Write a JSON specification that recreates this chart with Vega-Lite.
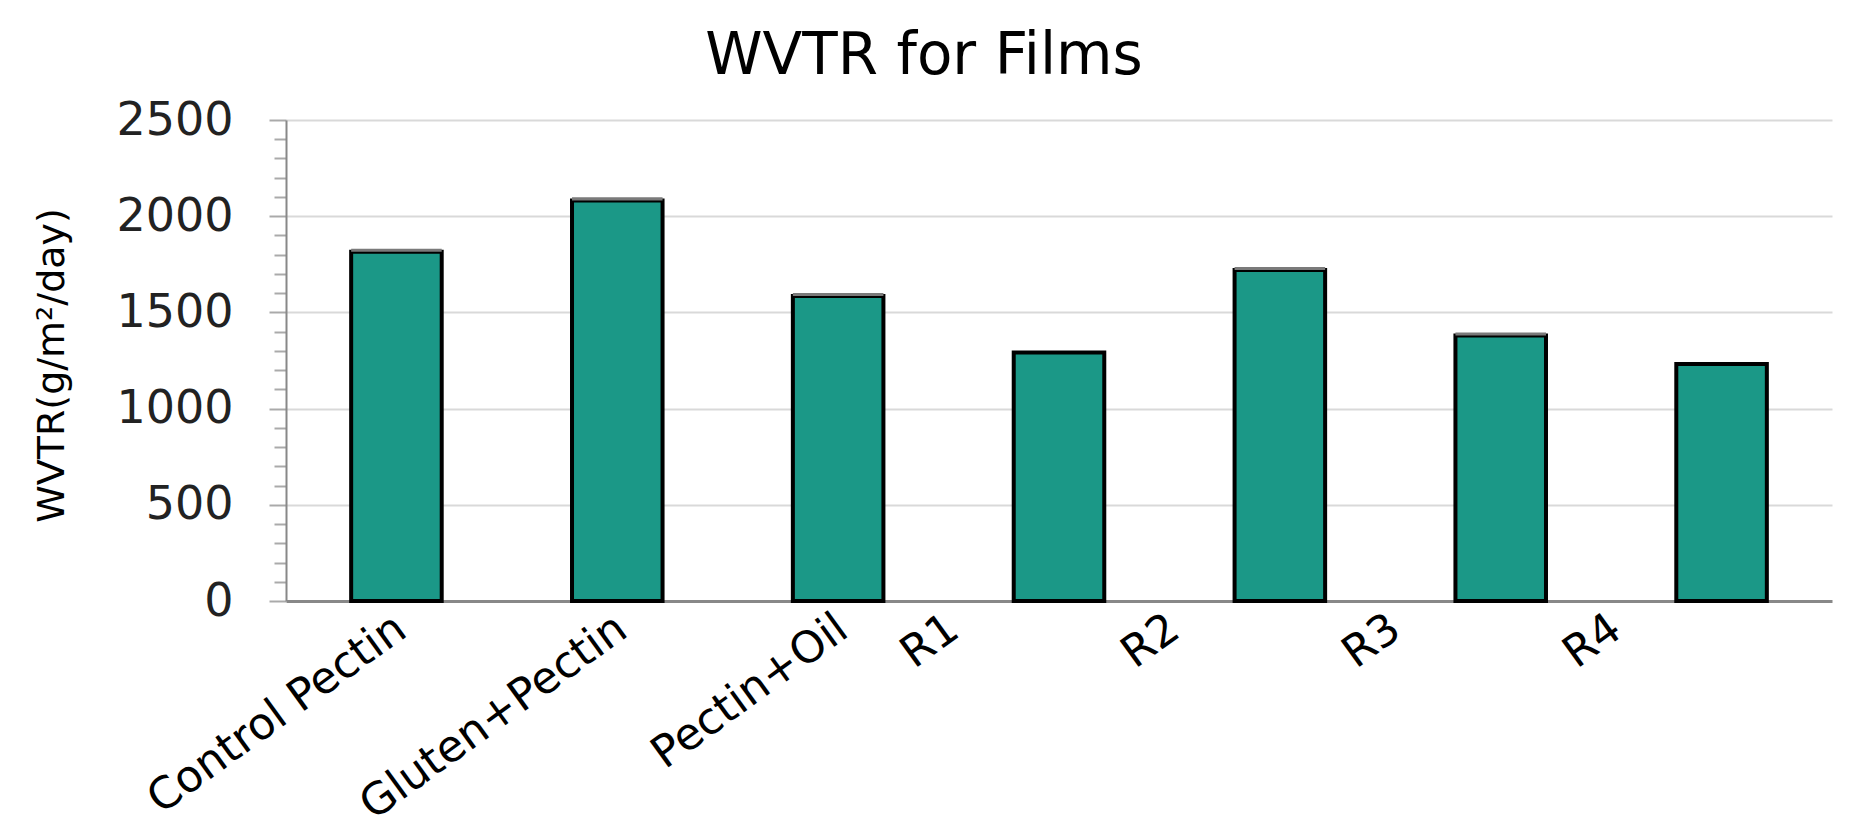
{
  "$schema": "https://vega.github.io/schema/vega-lite/v6.json",
  "width": 1546,
  "height": 481,
  "autosize": {"type": "none"},
  "padding": {"left": 286, "top": 120, "right": 36, "bottom": 233},
  "background": "white",
  "title": {"text": "WVTR for Films", "font": "DejaVu Sans", "fontSize": 58, "fontWeight": "normal", "color": "#000000", "anchor": "middle", "baseline": "alphabetic", "offset": -35, "dx": -135},
  "config": {"view": {"stroke": null}, "font": "DejaVu Sans"},
  "data": {"values": [
    {"film": "Control Pectin", "wvtr": 1815, "cap": 1831},
    {"film": "Gluten+Pectin", "wvtr": 2082, "cap": 2098},
    {"film": "Pectin+Oil", "wvtr": 1585, "cap": 1601},
    {"film": "R1", "wvtr": 1292, "cap": null},
    {"film": "R2", "wvtr": 1720, "cap": 1736},
    {"film": "R3", "wvtr": 1380, "cap": 1396},
    {"film": "R4", "wvtr": 1232, "cap": null}
  ]},
  "encoding": {
    "x": {
      "field": "film", "type": "nominal", "sort": null,
      "scale": {"paddingInner": 0.59, "paddingOuter": 0.295},
      "axis": {
        "title": null, "labelAngle": -36, "labelAlign": "right", "labelBaseline": "top",
        "labelFont": "DejaVu Sans", "labelFontSize": 44, "labelColor": "#000000", "labelPadding": 5,
        "labelLimit": 1000, "labelOverlap": false, "ticks": false, "grid": false,
        "domainColor": "#888888", "domainWidth": 3,
        "labelOffset": {"condition": {"test": "length(datum.label) <= 2", "value": -118}, "value": -8}
      }
    },
    "y": {
      "field": "wvtr", "type": "quantitative",
      "scale": {"domain": [0, 2500], "nice": false},
      "axis": {
        "title": "WVTR(g/m²/day)", "titleFont": "DejaVu Sans", "titleFontSize": 38, "titleFontWeight": "normal",
        "titleColor": "#000000", "titleAngle": 270, "titleX": -234, "titleY": 245, "titleAlign": "center", "titleBaseline": "middle",
        "values": [0,100,200,300,400,500,600,700,800,900,1000,1100,1200,1300,1400,1500,1600,1700,1800,1900,2000,2100,2200,2300,2400,2500],
        "format": "d",
        "labelExpr": "datum.value % 500 === 0 ? datum.label : ''",
        "labelFont": "DejaVu Sans", "labelFontSize": 46, "labelColor": "#222222", "labelPadding": 36, "labelOverlap": false,
        "tickSize": {"condition": {"test": "datum.value % 500 === 0", "value": 17}, "value": 12},
        "tickColor": "#aaaaaa", "tickWidth": 2,
        "domainColor": "#888888", "domainWidth": 2,
        "grid": true, "gridColor": "#d9d9d9", "gridWidth": 2,
        "gridOpacity": {"condition": {"test": "datum.value % 500 === 0 && datum.value > 0", "value": 1}, "value": 0}
      }
    }
  },
  "layer": [
    {
      "mark": {"type": "bar", "fill": "#1b9887", "stroke": "#000000", "strokeWidth": 4}
    },
    {
      "transform": [{"filter": "isValid(datum.cap)"}],
      "mark": {"type": "bar", "fill": "#7a7a7a", "stroke": null},
      "encoding": {"y2": {"field": "cap"}}
    }
  ]
}
